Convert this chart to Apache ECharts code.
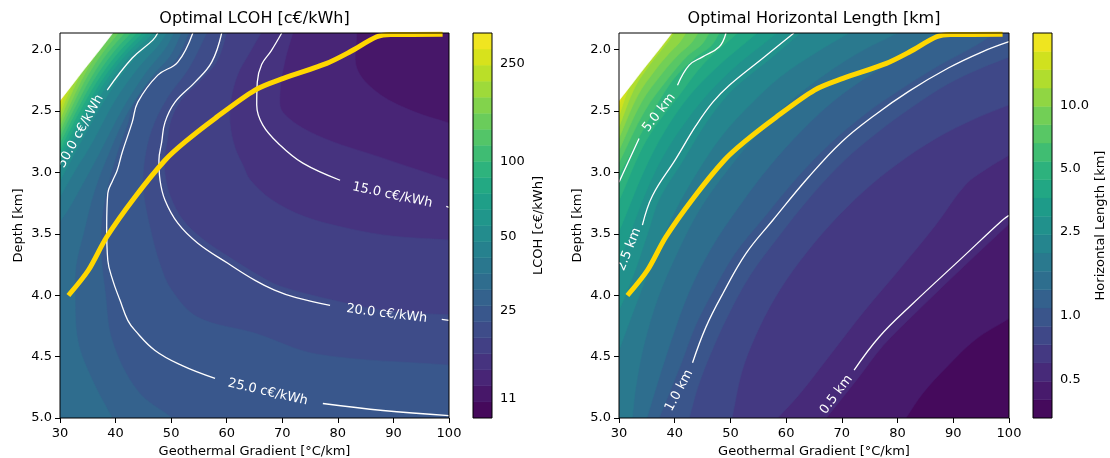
<!DOCTYPE html>
<html>
<head>
<meta charset="utf-8">
<script src="https://cdn.jsdelivr.net/npm/echarts@6/dist/echarts.min.js"></script>
<style>
  html, body { margin: 0; padding: 0; background: #ffffff; }
  #chart { width: 1110px; height: 458px; }
</style>
</head>
<body>
<div id="chart"></div>
<script>
// ---------- axes ----------
const gradientRange = [30, 100];          // °C/km
const depthRange = [1.865, 5.0];          // km (drawn downward)
const depthTicks = [2.0, 2.5, 3.0, 3.5, 4.0, 4.5, 5.0];

// ---------- colour levels (log spaced) ----------
const lcohLevels = [9.14, 10.62, 12.34, 14.33, 16.65, 19.34, 22.47, 26.10, 30.32, 35.23, 40.92,
  47.54, 55.23, 64.16, 74.54, 86.59, 100.6, 116.9, 135.8, 157.7, 183.2, 212.9, 247.3, 287.3, 333.7];
const lcohTicks = [11, 25, 50, 100, 250];
const lengthLevels = [0.327, 0.400, 0.488, 0.597, 0.729, 0.891, 1.089, 1.331, 1.626, 1.987, 2.428,
  2.967, 3.626, 4.431, 5.414, 6.616, 8.085, 9.880, 12.07, 14.75, 18.03, 22.03];
const lengthTicks = [0.5, 1.0, 2.5, 5.0, 10.0];

// ---------- filled-contour boundaries [gradient, depth]; index = level ----------
const lcohBoundaries = [];
lcohBoundaries[2] = [[83.4,1.865],[83.4,2.151],[87.0,2.346],[93.0,2.493],[100,2.599]];
lcohBoundaries[3] = [[71.9,1.865],[70.5,2.086],[69.6,2.346],[70.1,2.51],[76.2,2.697],[88.1,2.884],[100,3.064]];
lcohBoundaries[4] = [[66.2,1.865],[63.8,2.05],[62.0,2.2],[60.8,2.4],[60.6,2.6],[61.5,2.8],[63.0,2.95],[64.2,3.06],[68,3.22],[74,3.36],[82.2,3.46],[90,3.52],[100,3.55]];
lcohBoundaries[5] = [[60.0,1.865],[58.3,2.09],[55.3,2.25],[51.8,2.41],[50.0,2.57],[49.3,2.74],[48.8,2.9],[49.0,3.05],[49.9,3.2],[52.0,3.38],[55.6,3.54],[60.8,3.70],[65.8,3.84],[69.5,3.925],[79,4.04],[89,4.13],[100,4.16]];
lcohBoundaries[6] = [[56.4,1.865],[53.2,2.15],[49.2,2.4],[46.5,2.65],[45.2,2.9],[45.0,3.15],[46.2,3.45],[48.0,3.75],[50.1,3.96],[54.8,4.18],[65.1,4.31],[76.2,4.48],[100,4.57]];
lcohBoundaries[7] = [[53.2,1.865],[50.6,2.1],[47.0,2.22],[43.3,2.44],[42.2,2.6],[40.3,2.84],[38.3,3.17],[37.4,3.45],[37.5,3.72],[38.1,3.96],[39.4,4.37],[44.0,4.78],[50.2,5.0]];
lcohBoundaries[8] = [[51.8,1.865],[49.8,2.05],[46.5,2.22],[42.3,2.5],[39.0,2.82],[36.2,3.15],[34.2,3.5],[32.9,3.75],[32.7,3.96],[33.2,4.37],[35.8,4.69],[39.4,5.0]];
lcohBoundaries[9] = [[50.5,1.865],[48.8,2.0],[45.2,2.2],[41.0,2.5],[37.0,2.85],[34.0,3.1],[31.5,3.3],[30,3.4]];
lcohBoundaries[10] = [[49.2,1.865],[47.6,1.97],[44.2,2.14],[39.8,2.42],[35.5,2.78],[32.5,3.0],[30,3.2]];
lcohBoundaries[11] = [[47.9,1.865],[46.9,1.93],[43.3,2.08],[38.9,2.35],[34.4,2.7],[30,3.07]];
lcohBoundaries[12] = [[46.8,1.865],[42.4,2.058],[38.1,2.314],[33.7,2.644],[30,2.95]];
lcohBoundaries[13] = [[45.8,1.865],[41.7,2.05],[37.6,2.295],[33.5,2.609],[30,2.90]];
lcohBoundaries[14] = [[44.8,1.865],[41.0,2.044],[37.1,2.279],[33.3,2.578],[30,2.855]];
lcohBoundaries[15] = [[43.8,1.865],[40.2,2.038],[36.6,2.262],[33.0,2.547],[30,2.81]];
lcohBoundaries[16] = [[42.7,1.865],[39.4,2.031],[36.1,2.243],[32.8,2.512],[30,2.76]];
lcohBoundaries[17] = [[41.6,1.865],[38.6,2.024],[35.6,2.225],[32.6,2.478],[30,2.71]];
lcohBoundaries[18] = [[40.5,1.865],[37.8,2.017],[35.0,2.209],[32.3,2.447],[30,2.665]];
lcohBoundaries[19] = [[39.4,1.865],[37.0,2.011],[34.5,2.194],[32.1,2.417],[30,2.62]];
lcohBoundaries[20] = [[38.3,1.865],[36.1,2.004],[34.0,2.175],[31.8,2.382],[30,2.57]];
lcohBoundaries[21] = [[37.2,1.865],[35.3,1.997],[33.5,2.157],[31.6,2.347],[30,2.52]];
lcohBoundaries[22] = [[36.1,1.865],[34.5,1.99],[32.8,2.138],[31.3,2.313],[30,2.47]];
lcohBoundaries[23] = [[35.0,1.865],[33.7,1.986],[32.4,2.125],[31.1,2.286],[30,2.43]];
const lcohLowestBand = 1;

const lengthBoundaries = [];
lengthBoundaries[1] = [[100,4.19],[94,4.36],[88.7,4.59],[84.5,4.8],[81.5,5.0]];
lengthBoundaries[2] = [[100,3.42],[92,3.76],[83.3,4.14],[77.4,4.41],[73,4.67],[67.2,5.0]];
lengthBoundaries[3] = [[100,2.86],[96,2.97],[92.2,3.1],[86.8,3.43],[80.5,3.78],[74,4.13],[68,4.48],[62.5,4.8],[58.5,5.0]];
lengthBoundaries[4] = [[100,2.45],[94,2.56],[87,2.72],[80,2.93],[74,3.15],[68,3.42],[62.5,3.72],[58,4.02],[54.5,4.33],[52,4.63],[50.3,5.0]];
lengthBoundaries[5] = [[100,2.06],[95,2.15],[89,2.28],[82.5,2.47],[76.5,2.67],[70.5,2.9],[64.5,3.19],[58.5,3.53],[53.5,3.84],[49.5,4.17],[46.5,4.47],[44.2,4.74],[42.6,5.0]];
lengthBoundaries[6] = [[97.5,1.865],[93.5,1.98],[87.0,2.14],[80.0,2.34],[74.0,2.53],[68.0,2.76],[62.0,3.04],[55.6,3.39],[50.8,3.66],[46.6,3.99],[43.6,4.26],[41.2,4.55],[37.2,5.0]];
lengthBoundaries[7] = [[88.8,1.865],[83,2.0],[76,2.18],[69,2.4],[63,2.65],[57,2.95],[51.5,3.28],[46.5,3.62],[42.5,3.98],[39.5,4.35],[37,4.7],[35.0,5.0]];
lengthBoundaries[8] = [[80.1,1.865],[74,2.0],[67,2.2],[60.5,2.43],[55,2.68],[49.5,2.98],[44.5,3.3],[40.5,3.65],[37,4.02],[34.5,4.4],[33,4.75],[32.4,5.0]];
lengthBoundaries[9] = [[71.3,1.865],[65.5,2.02],[59,2.22],[53.5,2.45],[48.5,2.7],[44,3.0],[40,3.32],[36.5,3.68],[33.5,4.02],[31.2,4.3],[30,4.45]];
lengthBoundaries[10] = [[62.6,1.865],[57.0,2.08],[51.0,2.30],[48.0,2.45],[45.0,2.64],[41.4,2.91],[37.2,3.22],[35.4,3.46],[33.2,3.76],[31.0,4.02],[30,4.12]];
lengthBoundaries[11] = [[58.4,1.865],[49.6,2.19],[42.7,2.54],[36.4,3.0],[30,3.74]];
lengthBoundaries[12] = [[54.8,1.865],[47.4,2.15],[41.5,2.44],[35.7,2.87],[30,3.48]];
lengthBoundaries[13] = [[51.3,1.865],[45.3,2.11],[41.0,2.36],[35.0,2.73],[30,3.23]];
lengthBoundaries[14] = [[48.0,1.865],[46.5,1.97],[43.8,2.06],[39.6,2.25],[35.2,2.58],[30,3.02]];
lengthBoundaries[15] = [[46.2,1.865],[44.8,1.96],[42.3,2.05],[38.9,2.23],[34.6,2.50],[30,2.92]];
lengthBoundaries[16] = [[44.2,1.865],[42.9,1.95],[40.7,2.04],[37.8,2.19],[34.0,2.43],[30,2.82]];
lengthBoundaries[17] = [[42.0,1.865],[40.9,1.94],[39.0,2.03],[36.6,2.16],[33.4,2.37],[30,2.72]];
lengthBoundaries[18] = [[39.8,1.865],[38.9,1.93],[37.3,2.02],[35.4,2.13],[32.8,2.31],[30,2.63]];
lengthBoundaries[19] = [[37.6,1.865],[35.7,2.01],[34.2,2.11],[32.2,2.26],[30,2.54]];
lengthBoundaries[20] = [[35.4,1.865],[33.0,2.07],[31.6,2.2],[30,2.46]];
const lengthLowestBand = 0;

// edge of the infeasible (no result) corner
const missingEdge = [[39.5,1.865],[37.2,2.0],[34.9,2.13],[32.5,2.27],[30,2.415]];

// ---------- labelled contour lines (segments broken at their labels) ----------
const lcoh15 = [
  [[69.9,1.865],[68.0,2.01],[66.3,2.12],[65.5,2.265],[65.4,2.452],[66.5,2.615],[69.6,2.778],[73.7,2.925],[80.4,3.064]],
  [[99.5,3.277],[100,3.284]]
];
const lcoh20 = [
  [[59.1,1.865],[57.3,2.102],[54.3,2.265],[50.7,2.428],[48.9,2.591],[48.3,2.754],[47.8,2.901],[48.0,3.064],[48.9,3.227],[51.2,3.414],[54.8,3.577],[60.2,3.740],[65.1,3.879],[68.6,3.958],[72.5,4.02],[78.6,4.083]],
  [[98.7,4.197],[100,4.205]]
];
const lcoh25 = [
  [[53.9,1.865],[51.2,2.102],[47.6,2.208],[44.0,2.428],[43.0,2.591],[41.2,2.836],[40.3,2.982],[39.5,3.064],[38.6,3.170],[38.4,3.447],[38.6,3.716],[39.5,3.879],[40.8,4.042],[42.2,4.205],[43.5,4.287],[47.1,4.450],[51.9,4.572],[57.9,4.678]],
  [[77.3,4.882],[88.1,4.939],[100,4.980]]
];
const lcoh50 = [
  [[47.6,1.865],[46.7,1.923],[43.0,2.069],[38.5,2.330]]
];
const length05 = [
  [[100,3.35],[98.8,3.39],[91.7,3.69],[82.7,4.07],[76.7,4.34],[72.2,4.61]]
];
const length10 = [
  [[100,1.936],[95.1,2.02],[89.1,2.15],[82.0,2.34],[76.0,2.53],[70.0,2.75],[64.0,3.04],[57.6,3.39],[52.8,3.66],[48.6,3.99],[45.6,4.26],[43.2,4.55]]
];
const length25 = [
  [[61.4,1.865],[55.8,2.07],[49.8,2.29],[46.8,2.43],[43.8,2.62],[40.2,2.89],[36.0,3.19],[34.2,3.43]]
];
const length50 = [
  [[49.2,1.865],[48.0,1.977],[45.0,2.059],[42.6,2.127],[40.5,2.29]],
  [[33.6,2.724],[30.3,3.05],[30,3.08]]
];

// contour label placement: [gradient, depth, angle in degrees, text]
const lcohLabelPlacement = [
  [89.8, 3.186, -12, '15.0 c€/kWh'],
  [88.8, 4.151, -7, '20.0 c€/kWh'],
  [67.4, 4.790, -13, '25.0 c€/kWh'],
  [33.7, 2.665, 61, '50.0 c€/kWh']
];
const lengthLabelPlacement = [
  [37.2, 2.514, 52, '5.0 km'],
  [31.8, 3.626, 68, '2.5 km'],
  [40.8, 4.776, 62, '1.0 km'],
  [69.0, 4.810, 53, '0.5 km']
];

// optimal operating path (same in both panels)
const optimalPath = [[31.8,3.987],[35.1,3.797],[38.4,3.526],[43.5,3.200],[48.9,2.901],[52.5,2.752],[57.9,2.561],[65.1,2.330],[70.2,2.235],[78.0,2.112],[82.2,2.018],[87.0,1.896],[89.5,1.877],[98.4,1.876]];

// ---------- helpers ----------
const FONT = '"DejaVu Sans", "Liberation Sans", sans-serif';
const viridisStops = ['#440154','#471365','#482475','#463480','#414487','#3b528b','#355f8d','#2f6c8e',
  '#2a788e','#25848e','#21918c','#1e9c89','#22a884','#2fb47c','#44bf70','#5ec962','#7ad151',
  '#9bd93c','#bddf26','#dfe318','#fde725'];
function hexToRgb(h) { return [1,3,5].map(i => parseInt(h.substr(i, 2), 16)); }
function viridis(t) {
  t = Math.max(0, Math.min(1, t));
  const f = t * (viridisStops.length - 1);
  const i = Math.min(Math.floor(f), viridisStops.length - 2);
  const a = hexToRgb(viridisStops[i]), b = hexToRgb(viridisStops[i + 1]);
  const w = f - i;
  const c = a.map((v, j) => Math.round(v + (b[j] - v) * w));
  return 'rgb(' + c.join(',') + ')';
}
function bandColor(i, nBands) { return viridis((i + 0.5) / nBands); }

const [G0, G1] = gradientRange;
const [D0, D1] = depthRange;
// border corners pushed outside the plot so that smoothing never shows at the frame
const padG = (G1 - G0) * 0.25, padD = (D1 - D0) * 0.25;
const outerCorners = [[G0 - padG, D0 - padD], [G1 + padG, D0 - padD], [G1 + padG, D1 + padD], [G0 - padG, D1 + padD]];
// position of an edge point along the plot border, clockwise from the top-left corner
function edgeParam(p) {
  const eps = 1e-6;
  if (Math.abs(p[1] - D0) < eps) return (p[0] - G0) / (G1 - G0);
  if (Math.abs(p[0] - G1) < eps) return 1 + (p[1] - D0) / (D1 - D0);
  if (Math.abs(p[1] - D1) < eps) return 2 + (G1 - p[0]) / (G1 - G0);
  return 3 + (D1 - p[1]) / (D1 - D0);
}
// continue an end segment a little past the frame (hidden by clipping)
function beyond(p, q) { return [p[0] + (p[0] - q[0]) * 0.8, p[1] + (p[1] - q[1]) * 0.8]; }
// close a boundary curve along the border (clockwise) into the region that holds the top-left corner
function closeRegion(curve) {
  const n = curve.length;
  const s = edgeParam(curve[0]), e = edgeParam(curve[n - 1]);
  const span = (s - e + 4) % 4;
  const pts = [beyond(curve[0], curve[1])].concat(curve, [beyond(curve[n - 1], curve[n - 2])]);
  for (let c = Math.floor(e) + 1; c - e < span; c++) pts.push(outerCorners[c % 4]);
  return pts;
}

function fillSeries(ax, levels, boundaries, lowestBand) {
  const nBands = levels.length - 1;
  const shapes = [{ color: bandColor(lowestBand, nBands), pts: null }];
  boundaries.forEach((curve, k) => {
    if (curve) shapes.push({ color: bandColor(k, nBands), pts: closeRegion(curve) });
  });
  shapes.push({ color: '#ffffff', pts: closeRegion(missingEdge) });
  return {
    type: 'custom', xAxisIndex: ax, yAxisIndex: ax, clip: true, silent: true, z: 1,
    data: shapes.map(() => [G0, D0]),
    renderItem(params, api) {
      const s = shapes[params.dataIndex];
      const cs = params.coordSys;
      if (!s.pts) {
        return { type: 'rect', shape: { x: cs.x, y: cs.y, width: cs.width, height: cs.height }, style: { fill: s.color } };
      }
      return { type: 'polygon', shape: { points: s.pts.map(p => api.coord(p)), smooth: 0.35 },
        style: { fill: s.color, stroke: s.color, lineWidth: 0.6 } };
    }
  };
}

function lineSeries(ax, segments) {
  return segments.map(seg => ({
    type: 'line', xAxisIndex: ax, yAxisIndex: ax, data: seg, symbol: 'none', smooth: 0.4,
    silent: true, z: 3, clip: true,
    lineStyle: { color: '#ffffff', width: 1.3 }
  }));
}

function labelSeries(ax, placement) {
  return {
    type: 'custom', xAxisIndex: ax, yAxisIndex: ax, silent: true, z: 3, clip: false,
    data: placement.map(p => [p[0], p[1]]),
    renderItem(params, api) {
      const p = placement[params.dataIndex];
      const pos = api.coord([p[0], p[1]]);
      return { type: 'text', x: pos[0], y: pos[1], rotation: p[2] * Math.PI / 180,
        style: { text: p[3], fill: '#ffffff', font: '13px ' + FONT, align: 'center', verticalAlign: 'middle' } };
    }
  };
}

function pathSeries(ax) {
  return {
    type: 'line', xAxisIndex: ax, yAxisIndex: ax, data: optimalPath, symbol: 'none', smooth: 0.3,
    silent: true, z: 4, clip: true,
    lineStyle: { color: '#ffd700', width: 5, cap: 'square' }
  };
}

function frameSeries(ax, anchor) {
  return {
    type: 'custom', xAxisIndex: ax, yAxisIndex: ax, silent: true, z: 6, clip: false,
    data: [anchor],
    renderItem(params) {
      const cs = params.coordSys;
      return { type: 'rect', shape: { x: cs.x, y: cs.y, width: cs.width, height: cs.height },
        style: { fill: 'none', stroke: '#000000', lineWidth: 1 } };
    }
  };
}

function colorbarSeries(ax, levels) {
  const nBands = levels.length - 1;
  return {
    type: 'custom', xAxisIndex: ax, yAxisIndex: ax, silent: true, z: 1, clip: true,
    data: levels.slice(0, -1).map(lo => [0, Math.log10(lo)]),
    renderItem(params, api) {
      const i = params.dataIndex;
      const a = api.coord([0, Math.log10(levels[i + 1])]);
      const b = api.coord([1, Math.log10(levels[i])]);
      const col = bandColor(i, nBands);
      return { type: 'rect', shape: { x: a[0], y: a[1], width: b[0] - a[0], height: b[1] - a[1] },
        style: { fill: col, stroke: col, lineWidth: 0.5 } };
    }
  };
}

// ---------- axes ----------
const axisText = { color: '#000000', fontSize: 13, fontFamily: FONT };
function gradientAxis(grid) {
  return {
    gridIndex: grid, type: 'value', min: G0, max: G1, interval: 10,
    axisLine: { show: false }, splitLine: { show: false },
    axisTick: { show: true, length: 5, lineStyle: { color: '#000', width: 1 } },
    axisLabel: Object.assign({ margin: 9, showMinLabel: true, showMaxLabel: true }, axisText),
    name: 'Geothermal Gradient [°C/km]', nameLocation: 'middle', nameGap: 26,
    nameTextStyle: axisText
  };
}
function depthAxis(grid) {
  return {
    gridIndex: grid, type: 'value', inverse: true, min: D0, max: D1,
    axisLine: { show: false }, splitLine: { show: false },
    axisTick: { show: true, length: 5, customValues: depthTicks, lineStyle: { color: '#000', width: 1 } },
    axisLabel: Object.assign({ margin: 8, customValues: depthTicks, formatter: v => Number(v).toFixed(1) }, axisText),
    name: 'Depth [km]', nameLocation: 'middle', nameGap: 35, nameRotate: 90,
    nameTextStyle: axisText
  };
}
function barAxisX(grid) {
  return { gridIndex: grid, type: 'value', min: 0, max: 1, show: false };
}
function barAxisY(grid, levels, ticks, fmt, title, gap) {
  const tv = ticks.map(Math.log10);
  return {
    gridIndex: grid, type: 'value', position: 'right',
    min: Math.log10(levels[0]), max: Math.log10(levels[levels.length - 1]),
    axisLine: { show: false }, splitLine: { show: false },
    axisTick: { show: true, length: 5, customValues: tv, lineStyle: { color: '#000', width: 1 } },
    axisLabel: Object.assign({ margin: 8, customValues: tv, formatter: v => fmt(Math.pow(10, v)) }, axisText),
    name: title, nameLocation: 'middle', nameGap: gap, nameRotate: 90,
    nameTextStyle: axisText
  };
}

const gridBase = { outerBoundsMode: 'none', containLabel: false };
const option = {
  animation: false,
  backgroundColor: '#ffffff',
  textStyle: { fontFamily: FONT },
  grid: [
    Object.assign({ left: 60, top: 33, width: 389, height: 385 }, gridBase),
    Object.assign({ left: 473, top: 33, width: 19, height: 385 }, gridBase),
    Object.assign({ left: 619, top: 33, width: 390, height: 385 }, gridBase),
    Object.assign({ left: 1033, top: 33, width: 19, height: 385 }, gridBase)
  ],
  graphic: [
    { type: 'text', x: 254.5, y: 19, style: { text: 'Optimal LCOH [c€/kWh]', font: '16px ' + FONT, fill: '#000', align: 'center', verticalAlign: 'middle' } },
    { type: 'text', x: 814, y: 19, style: { text: 'Optimal Horizontal Length [km]', font: '16px ' + FONT, fill: '#000', align: 'center', verticalAlign: 'middle' } }
  ],
  xAxis: [gradientAxis(0), barAxisX(1), gradientAxis(2), barAxisX(3)],
  yAxis: [
    depthAxis(0),
    barAxisY(1, lcohLevels, lcohTicks, v => String(Math.round(v)), 'LCOH [c€/kWh]', 40),
    depthAxis(2),
    barAxisY(3, lengthLevels, lengthTicks, v => v.toFixed(1), 'Horizontal Length [km]', 42)
  ],
  series: [].concat(
    fillSeries(0, lcohLevels, lcohBoundaries, lcohLowestBand),
    lineSeries(0, lcoh15), lineSeries(0, lcoh20), lineSeries(0, lcoh25), lineSeries(0, lcoh50),
    labelSeries(0, lcohLabelPlacement),
    pathSeries(0),
    frameSeries(0, [G0, D0]),
    colorbarSeries(1, lcohLevels),
    frameSeries(1, [0, Math.log10(lcohLevels[0])]),
    fillSeries(2, lengthLevels, lengthBoundaries, lengthLowestBand),
    lineSeries(2, length05), lineSeries(2, length10), lineSeries(2, length25), lineSeries(2, length50),
    labelSeries(2, lengthLabelPlacement),
    pathSeries(2),
    frameSeries(2, [G0, D0]),
    colorbarSeries(3, lengthLevels),
    frameSeries(3, [0, Math.log10(lengthLevels[0])])
  )
};

const chart = echarts.init(document.getElementById('chart'), null, { renderer: 'canvas' });
chart.setOption(option);
</script>
</body>
</html>
